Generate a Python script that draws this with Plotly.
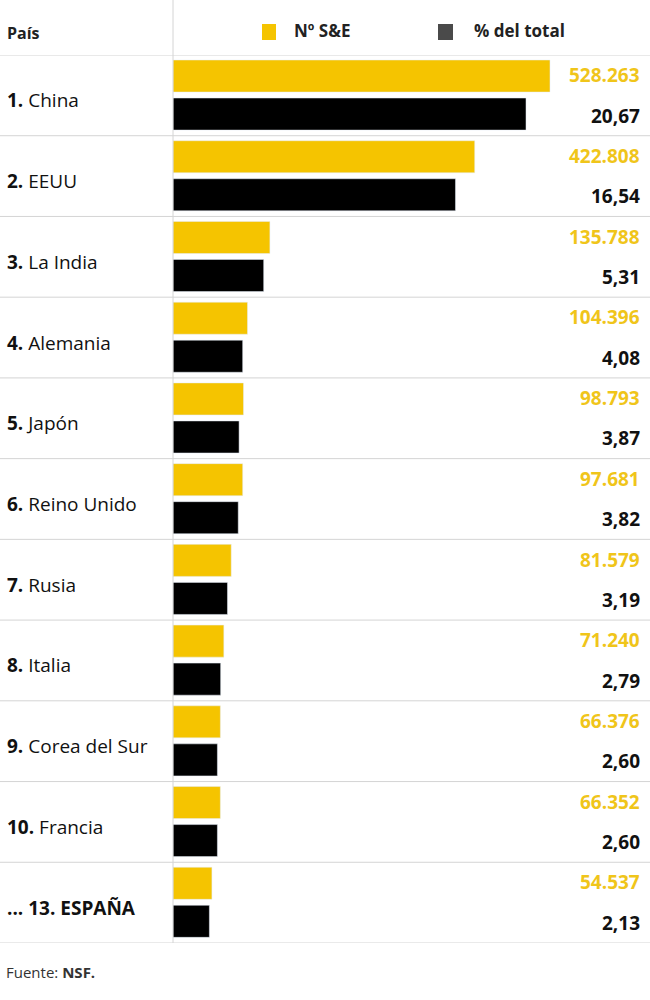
import plotly.graph_objects as go

ranks = ["1.", "2.", "3.", "4.", "5.", "6.", "7.", "8.", "9.", "10.", "... 13."]
countries = ["China", "EEUU", "La India", "Alemania", "Japón", "Reino Unido",
             "Rusia", "Italia", "Corea del Sur", "Francia", "ESPAÑA"]
se_values = [528263, 422808, 135788, 104396, 98793, 97681, 81579, 71240, 66376, 66352, 54537]
pct_values = [20.67, 16.54, 5.31, 4.08, 3.87, 3.82, 3.19, 2.79, 2.60, 2.60, 2.13]

YELLOW = "#F5C400"
YELLOW_TXT = "#F0C51A"
FONT = "Open Sans"

W, H = 650, 1000
L, R, T, B = 173, 0, 55, 57
pw = W - L - R
ph = H - T - B

idx = list(range(len(countries)))

fig = go.Figure()
fig.add_trace(go.Bar(
    x=se_values, y=idx, orientation="h", marker_color=YELLOW,
    width=0.397, offset=-0.438, xaxis="x", yaxis="y", showlegend=False,
    hoverinfo="skip"))
fig.add_trace(go.Bar(
    x=pct_values, y=idx, orientation="h", marker_color="#000000",
    width=0.397, offset=0.033, xaxis="x2", yaxis="y", showlegend=False,
    hoverinfo="skip"))

def fmt_int(v):
    return f"{v:,}".replace(",", ".")

def fmt_pct(v):
    return f"{v:.2f}".replace(".", ",")

def px_x(px):
    return (px - L) / pw

def px_y(py):
    return (H - B - py) / ph

ann = []
shapes = []
xr = px_x(642)
for i, (rk, c, s, p) in enumerate(zip(ranks, countries, se_values, pct_values)):
    if rk.startswith("..."):
        label = f"<b>{rk} {c}</b>"
    else:
        label = f"<b>{rk}</b> {c}"
    ann.append(dict(x=0, xref="paper", xshift=-L + 5, y=i, yref="y", yshift=-5,
                    text=label, showarrow=False, xanchor="left", yanchor="middle",
                    font=dict(family=FONT, size=19, color="#111111")))
    ann.append(dict(x=xr, xref="paper", y=i - 0.25, yref="y",
                    text=f"<b>{fmt_int(s)}</b>", showarrow=False, xanchor="right",
                    yanchor="middle", font=dict(family=FONT, size=19, color=YELLOW_TXT)))
    ann.append(dict(x=xr, xref="paper", y=i + 0.25, yref="y",
                    text=f"<b>{fmt_pct(p)}</b>", showarrow=False, xanchor="right",
                    yanchor="middle", font=dict(family=FONT, size=19, color="#111111")))

# row separators
for b in [i - 0.5 for i in idx] + [len(idx) - 0.5]:
    shapes.append(dict(type="line", xref="paper", yref="y", x0=-L / pw, x1=1,
                       y0=b, y1=b, line=dict(color="#d4d4d4", width=1)))
# vertical separator
shapes.append(dict(type="line", xref="paper", yref="paper", x0=0, x1=0,
                   y0=0, y1=px_y(0), line=dict(color="#d4d4d4", width=1)))

# header
ann.append(dict(x=0, xref="paper", xshift=-L + 5, y=px_y(33), yref="paper",
                text="<b>País</b>", showarrow=False, xanchor="left", yanchor="middle",
                font=dict(family=FONT, size=16, color="#222222")))
# legend
shapes.append(dict(type="rect", xref="paper", yref="paper",
                   x0=px_x(262), x1=px_x(276), y0=px_y(40), y1=px_y(24),
                   fillcolor=YELLOW, line=dict(width=0)))
shapes.append(dict(type="rect", xref="paper", yref="paper",
                   x0=px_x(438), x1=px_x(453), y0=px_y(40), y1=px_y(24),
                   fillcolor="#4a4a4a", line=dict(width=0)))
ann.append(dict(x=px_x(292), xref="paper", y=px_y(30), yref="paper", text="<b>Nº S&E</b>",
                showarrow=False, xanchor="left", yanchor="middle",
                font=dict(family=FONT, size=17, color="#222222")))
ann.append(dict(x=px_x(472), xref="paper", y=px_y(30), yref="paper", text="<b>% del total</b>",
                showarrow=False, xanchor="left", yanchor="middle",
                font=dict(family=FONT, size=17, color="#222222")))
# source
ann.append(dict(x=0, xref="paper", xshift=-L + 4, y=px_y(972), yref="paper",
                text="Fuente: <b>NSF.</b>", showarrow=False, xanchor="left", yanchor="middle",
                font=dict(family=FONT, size=15, color="#333333")))

fig.update_layout(
    width=W, height=H,
    margin=dict(l=L, r=R, t=T, b=B),
    paper_bgcolor="white", plot_bgcolor="white",
    xaxis=dict(range=[0, 668400], visible=False, fixedrange=True),
    xaxis2=dict(range=[0, 27.93], visible=False, overlaying="x", fixedrange=True),
    yaxis=dict(range=[len(idx) - 0.5, -0.5], visible=False, fixedrange=True),
    annotations=ann, shapes=shapes, showlegend=False,
)

fig.write_html("out.html")
